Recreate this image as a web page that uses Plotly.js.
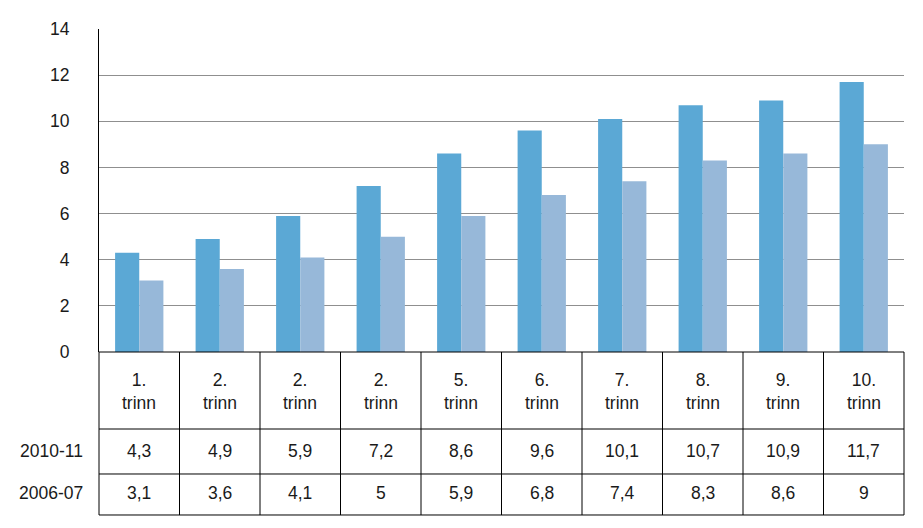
<!DOCTYPE html>
<html>
<head>
<meta charset="utf-8">
<script src="https://cdn.plot.ly/plotly-3.0.1.min.js"></script>
<style>html,body{margin:0;padding:0;background:#fff;}#chart{width:923px;height:528px;}</style>
</head>
<body>
<div id="chart"></div>
<script>
const categories = ["1.<br>trinn", "2.<br>trinn", "2.<br>trinn", "2.<br>trinn", "5.<br>trinn", "6.<br>trinn", "7.<br>trinn", "8.<br>trinn", "9.<br>trinn", "10.<br>trinn"];
const seriesNames = ["2010-11", "2006-07"];
const values2010 = [4.3, 4.9, 5.9, 7.2, 8.6, 9.6, 10.1, 10.7, 10.9, 11.7];
const values2006 = [3.1, 3.6, 4.1, 5, 5.9, 6.8, 7.4, 8.3, 8.6, 9];
const yTicks = [0, 2, 4, 6, 8, 10, 12, 14];

const idx = categories.map((_, i) => i);
const font = {family: "Liberation Sans, Arial, sans-serif", size: 17.5, color: "#1a1a1a"};
const fmt = v => String(v).replace('.', ',');

const traces = [
  {type: 'bar', x: idx, y: values2010, name: seriesNames[0], marker: {color: '#5ba8d5'}, hoverinfo: 'none'},
  {type: 'bar', x: idx, y: values2006, name: seriesNames[1], marker: {color: '#97b8d9'}, hoverinfo: 'none'}
];

// table geometry in paper units (plot height = 323px)
const rowLines = [0, -0.2384, -0.3777, -0.5046];
const rowCenters = [-0.121, -0.3065, -0.4366];

const shapes = [];
const lineStyle = {color: '#000', width: 1};
rowLines.forEach(y => shapes.push({type: 'line', xref: 'paper', yref: 'paper', x0: 0, x1: 1, y0: y, y1: y, line: lineStyle}));
shapes.push({type: 'line', xref: 'paper', yref: 'paper', x0: 0, x1: 0, y0: 0, y1: rowLines[3], line: lineStyle});
shapes.push({type: 'line', xref: 'paper', yref: 'paper', x0: 1, x1: 1, y0: 0, y1: rowLines[3], line: lineStyle});
for (let i = 1; i < categories.length; i++) {
  shapes.push({type: 'line', xref: 'x', yref: 'paper', x0: i - 0.5, x1: i - 0.5, y0: 0, y1: rowLines[3], line: lineStyle});
}

const annotations = [];
categories.forEach((c, i) => {
  annotations.push({xref: 'x', yref: 'paper', x: i, y: rowCenters[0], text: c, showarrow: false, font: font, align: 'center', yanchor: 'middle'});
  annotations.push({xref: 'x', yref: 'paper', x: i, y: rowCenters[1], text: fmt(values2010[i]), showarrow: false, font: font, yanchor: 'middle'});
  annotations.push({xref: 'x', yref: 'paper', x: i, y: rowCenters[2], text: fmt(values2006[i]), showarrow: false, font: font, yanchor: 'middle'});
});
seriesNames.forEach((n, k) => {
  annotations.push({xref: 'paper', yref: 'paper', x: 0, xshift: -14, y: rowCenters[k + 1], text: n, showarrow: false, font: font, xanchor: 'right', yanchor: 'middle'});
});

const layout = {
  width: 923, height: 528,
  margin: {l: 99, r: 19, t: 29, b: 176},
  paper_bgcolor: '#fff', plot_bgcolor: '#fff',
  showlegend: false,
  barmode: 'group', bargap: 0.4, bargroupgap: 0,
  xaxis: {range: [-0.5, 9.5], showticklabels: false, showgrid: false, zeroline: false, showline: false, ticks: ''},
  yaxis: {range: [0, 14], tickvals: yTicks, ticktext: yTicks.map(String), showgrid: true, gridcolor: '#8f8f8f', gridwidth: 1,
          zeroline: false, showline: true, linecolor: '#000', linewidth: 1, ticks: '', tickfont: font, ticklabelstandoff: 25},
  shapes: shapes,
  annotations: annotations
};

Plotly.newPlot('chart', traces, layout, {displayModeBar: false, staticPlot: true});
</script>
</body>
</html>
